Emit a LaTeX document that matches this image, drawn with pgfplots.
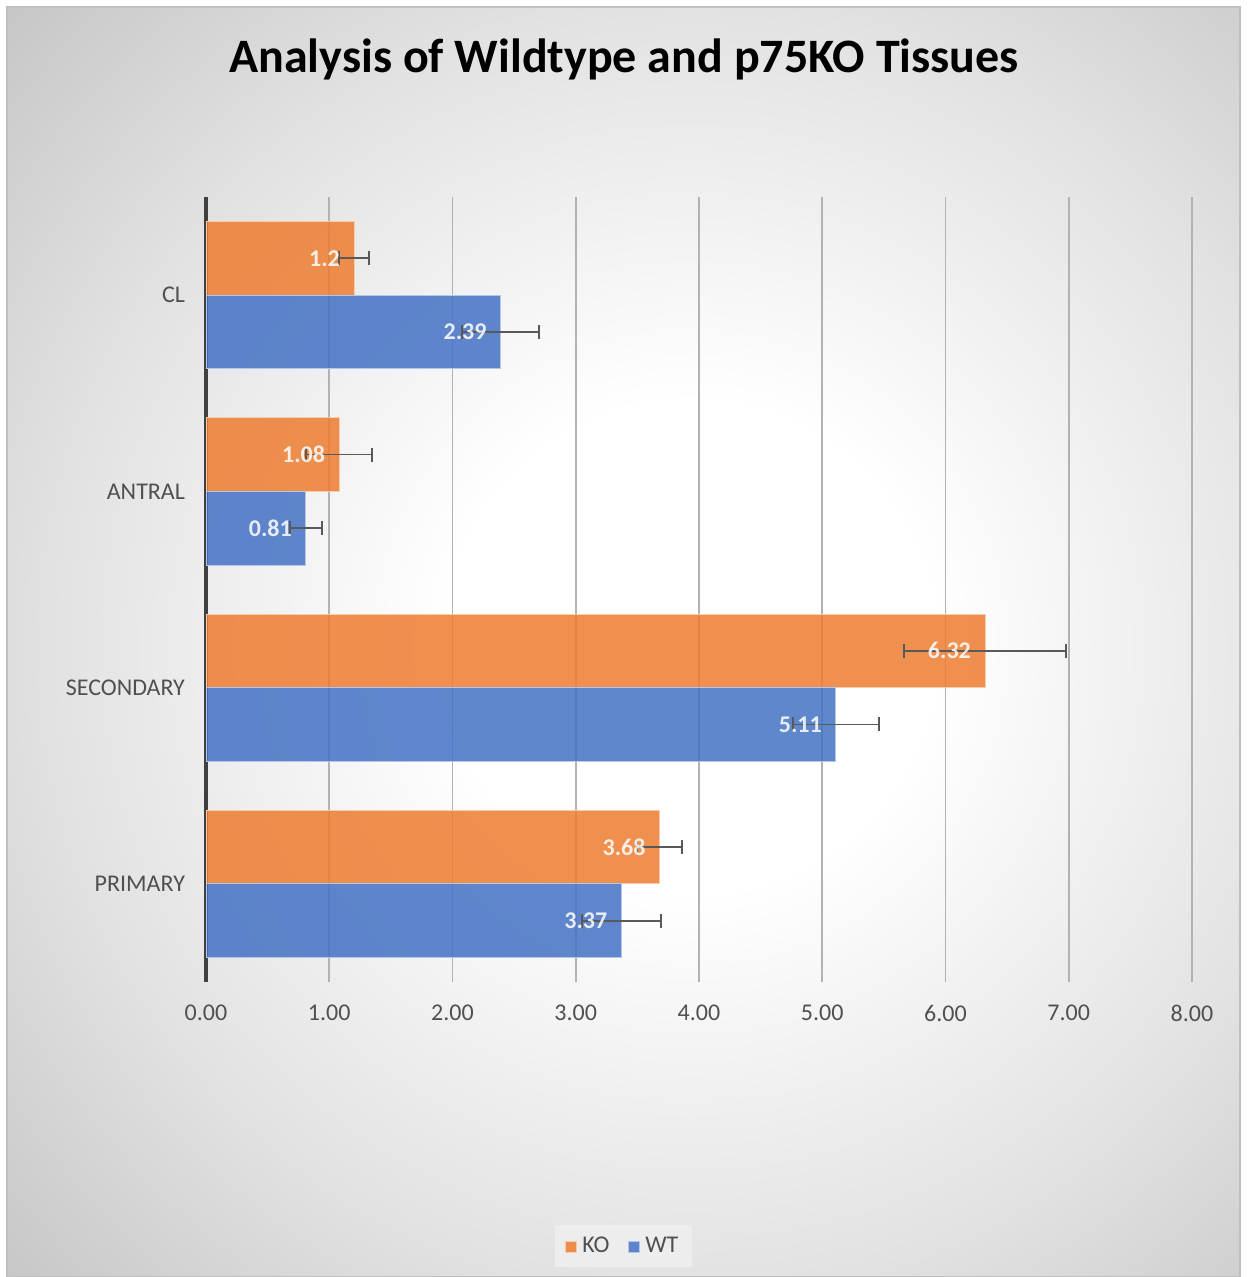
\documentclass[border=0pt]{standalone}
\usepackage{fontspec}
\setmainfont{Carlito}
\usepackage{pgfplots}
\pgfplotsset{compat=1.18}
\usepackage{pgfplotstable}

\definecolor{koorange}{RGB}{237,125,49}
\definecolor{wtblue}{RGB}{68,114,196}
\definecolor{txtgray}{RGB}{80,80,80}
\definecolor{gridgray}{RGB}{178,178,178}
\definecolor{bgmid}{RGB}{226,226,226}
\definecolor{bggray}{RGB}{198,198,198}

\pgfdeclareradialshading{bgshade}{\pgfpoint{0bp}{0bp}}{color(0bp)=(white); color(6.5bp)=(white); color(17bp)=(bgmid); color(25bp)=(bggray); color(50bp)=(bggray)}

% KO and WT values with error bars (y: 0=PRIMARY ... 3=CL)
\pgfplotstableread{
y x e lab
0 3.68 0.18 3.68
1 6.32 0.66 6.32
2 1.08 0.27 1.08
3 1.20 0.12 1.2
}\kodata
\pgfplotstableread{
y x e lab
0 3.37 0.32 3.37
1 5.11 0.35 5.11
2 0.81 0.13 0.81
3 2.39 0.31 2.39
}\wtdata

\begin{document}
\begin{tikzpicture}
\useasboundingbox (0,0) rectangle (624pt,638.5pt);
\begin{scope}
\clip (3.5pt,0pt) rectangle (620pt,635pt);
\fill[bggray] (3.5pt,0pt) rectangle (620pt,635pt);
\shade[shading=bgshade] (345pt,315pt) circle (470pt);
\end{scope}
\draw[black!25, line width=0.6pt] (3.5pt,0pt) rectangle (620pt,635pt);

\node[font=\fontsize{24}{28}\selectfont\bfseries, text=black] at (312pt,609pt) {Analysis of Wildtype and p75KO Tissues};

\begin{axis}[
    at={(103pt,147.5pt)}, anchor=south west,
    scale only axis,
    width=493pt, height=392.5pt,
    xbar,
    bar width=0.375,
    xmin=0, xmax=8,
    ymin=-0.5, ymax=3.5,
    xtick={0,1,...,8},
    ytick={0,1,2,3},
    yticklabels={PRIMARY,SECONDARY,ANTRAL,CL},
    major tick length=0,
    xmajorgrids,
    grid style={gridgray, line width=0.9pt},
    axis lines*=left,
    x axis line style={draw=none},
    y axis line style={line width=2pt, black!75},
    ticklabel style={font=\fontsize{12}{14}\selectfont, text=txtgray},
    xticklabel style={yshift=-8pt},
    yticklabel style={xshift=-7pt},
    /pgf/number format/.cd, fixed, fixed zerofill, precision=2, assume math mode=true,
    /pgfplots/.cd,
    point meta=explicit symbolic,
    nodes near coords,
    every node near coord/.append style={anchor=east, xshift=-3.5pt, text=white, font=\fontsize{12}{14}\selectfont\bfseries},
    error bars/x dir=both,
    error bars/x explicit,
    error bars/error mark=|,
    error bars/error bar style={line width=0.9pt, color=black!65},
    error bars/error mark options={line width=0.9pt, color=black!65, mark size=3.5pt},
    legend columns=2,
    legend style={at={(0.4234,-0.3363)}, anchor=center, fill=black!7, draw=none,
        font=\fontsize{12}{14}\selectfont, text=txtgray, inner xsep=5pt, inner ysep=4pt,
        /tikz/every even column/.append style={column sep=7pt}},
    legend image code/.code={\fill[#1] (0pt,-3pt) rectangle (5.5pt,2.5pt); \path (6.5pt,0pt);},
]
\addplot[fill=koorange, fill opacity=0.85, draw=koorange!40, line width=0.4pt, bar shift=0.1875]
    table[x=x, y=y, x error=e, meta=lab] {\kodata};
\addlegendentry{KO}
\addplot[fill=wtblue, fill opacity=0.85, draw=wtblue!40, line width=0.4pt, bar shift=-0.1875]
    table[x=x, y=y, x error=e, meta=lab] {\wtdata};
\addlegendentry{WT}
\end{axis}
\end{tikzpicture}
\end{document}
